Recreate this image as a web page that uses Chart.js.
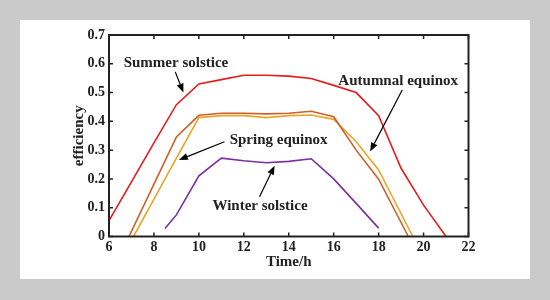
<!DOCTYPE html>
<html>
<head>
<meta charset="utf-8">
<script src="https://cdn.jsdelivr.net/npm/chart.js@4.4.1/dist/chart.umd.min.js"></script>
<style>
  html, body { margin: 0; padding: 0; background: #cacaca; }
  body { width: 550px; height: 300px; position: relative; overflow: hidden; }
  #panel { position: absolute; left: 20px; top: 20px; width: 510px; height: 259px; background: #fff; }
  canvas { display: block; }
</style>
</head>
<body>
<div id="panel"><canvas id="chart" width="510" height="259"></canvas></div>
<script>
// hours (x) and efficiency (y)
const summerHours = [6, 7, 8, 9, 10, 11, 12, 13, 14, 15, 16, 17, 18, 19, 20, 21];
const summerEff   = [0.055, 0.19, 0.325, 0.458, 0.53, 0.545, 0.56, 0.56, 0.557, 0.549, 0.525, 0.50, 0.42, 0.237, 0.109, 0];

const autumnHours = [6.89, 8, 9, 10, 11, 12, 13, 14, 15, 16, 17, 18, 19.32];
const autumnEff   = [0, 0.182, 0.346, 0.421, 0.428, 0.428, 0.426, 0.428, 0.435, 0.416, 0.30, 0.199, 0];

const springHours = [7.09, 8, 9, 10, 11, 12, 13, 14, 15, 16, 17, 18, 19.52];
const springEff   = [0, 0.13, 0.272, 0.413, 0.42, 0.42, 0.413, 0.42, 0.422, 0.407, 0.329, 0.231, 0];

const winterHours = [8.49, 9, 10, 11, 12, 13, 14, 15, 16, 17, 18];
const winterEff   = [0.028, 0.075, 0.211, 0.272, 0.263, 0.256, 0.261, 0.27, 0.2, 0.115, 0.029];

const xTicks = [6, 8, 10, 12, 14, 16, 18, 20, 22];
const yTicks = [0, 0.1, 0.2, 0.3, 0.4, 0.5, 0.6, 0.7];

// label text + arrow (tail -> head), in data units
const notes = [
  { text: "Summer solstice",  at: [8.98, 0.603], from: [8.95, 0.572], to: [9.31, 0.50] },
  { text: "Autumnal equinox", at: [18.87, 0.541], from: [19.05, 0.509], to: [17.62, 0.295] },
  { text: "Spring equinox",   at: [13.55, 0.335], from: [11.14, 0.329], to: [9.11, 0.266] },
  { text: "Winter solstice",  at: [12.72, 0.106], from: [12.70, 0.138], to: [13.37, 0.246] }
];

const pts = (xs, ys) => xs.map((x, i) => ({ x: x, y: ys[i] }));
const serif = "'Liberation Serif', 'Times New Roman', serif";
const ink = "#222";

const framePlugin = {
  id: "frame",
  afterDatasetsDraw(chart) {
    const { ctx, chartArea: a, scales: { x, y } } = chart;
    ctx.save();

    // inward ticks on all four sides
    ctx.strokeStyle = ink;
    ctx.lineWidth = 1.5;
    ctx.beginPath();
    xTicks.forEach(v => {
      const px = x.getPixelForValue(v);
      ctx.moveTo(px, a.bottom); ctx.lineTo(px, a.bottom - 4);
      ctx.moveTo(px, a.top);    ctx.lineTo(px, a.top + 4);
    });
    yTicks.forEach(v => {
      const py = y.getPixelForValue(v);
      ctx.moveTo(a.left, py);  ctx.lineTo(a.left + 4, py);
      ctx.moveTo(a.right, py); ctx.lineTo(a.right - 4, py);
    });
    ctx.stroke();

    // box
    ctx.lineWidth = 2;
    ctx.strokeRect(a.left, a.top, a.right - a.left, a.bottom - a.top);

    // annotations
    ctx.font = "bold 15px " + serif;
    ctx.fillStyle = ink;
    ctx.textAlign = "center";
    ctx.textBaseline = "middle";
    notes.forEach(n => {
      ctx.fillText(n.text, x.getPixelForValue(n.at[0]), y.getPixelForValue(n.at[1]));

      const x0 = x.getPixelForValue(n.from[0]), y0 = y.getPixelForValue(n.from[1]);
      const x1 = x.getPixelForValue(n.to[0]),   y1 = y.getPixelForValue(n.to[1]);
      const ang = Math.atan2(y1 - y0, x1 - x0);
      const len = 9, half = 3.5;
      const bx = x1 - len * Math.cos(ang), by = y1 - len * Math.sin(ang);

      ctx.strokeStyle = "#000";
      ctx.lineWidth = 1.2;
      ctx.beginPath();
      ctx.moveTo(x0, y0);
      ctx.lineTo(bx, by);
      ctx.stroke();

      ctx.fillStyle = "#000";
      ctx.beginPath();
      ctx.moveTo(x1, y1);
      ctx.lineTo(bx + half * Math.sin(ang), by - half * Math.cos(ang));
      ctx.lineTo(bx - half * Math.sin(ang), by + half * Math.cos(ang));
      ctx.closePath();
      ctx.fill();
      ctx.fillStyle = ink;
    });

    ctx.restore();
  }
};

new Chart(document.getElementById("chart"), {
  type: "line",
  data: {
    datasets: [
      { label: "Summer solstice",  data: pts(summerHours, summerEff), borderColor: "#e41d1d" },
      { label: "Autumnal equinox", data: pts(autumnHours, autumnEff), borderColor: "#cf5f26" },
      { label: "Spring equinox",   data: pts(springHours, springEff), borderColor: "#e9a62a" },
      { label: "Winter solstice",  data: pts(winterHours, winterEff), borderColor: "#7b2fa0" }
    ]
  },
  options: {
    responsive: false,
    animation: false,
    devicePixelRatio: 1,
    elements: {
      line: { borderWidth: 1.6, tension: 0, fill: false },
      point: { radius: 0 }
    },
    layout: { padding: { top: 15, right: 61.5, left: 0, bottom: 0 } },
    plugins: { legend: { display: false }, tooltip: { enabled: false } },
    scales: {
      x: {
        type: "linear",
        min: 6, max: 22,
        afterBuildTicks: s => { s.ticks = xTicks.map(v => ({ value: v })); },
        afterFit: s => { s.height = 42.5; },
        grid: { display: false, drawTicks: false },
        border: { display: false },
        ticks: { color: ink, padding: 2, font: { family: serif, size: 14, weight: "bold" } },
        title: {
          display: true, text: "Time/h", color: ink,
          font: { family: serif, size: 15, weight: "bold" },
          padding: { top: 0, bottom: 8 }
        }
      },
      y: {
        min: 0, max: 0.7,
        afterBuildTicks: s => { s.ticks = yTicks.map(v => ({ value: v })); },
        afterFit: s => { s.width = 89; },
        grid: { display: false, drawTicks: false },
        border: { display: false },
        ticks: {
          color: ink, padding: 4,
          font: { family: serif, size: 14, weight: "bold" },
          callback: v => v === 0 ? "0" : v.toFixed(1)
        },
        title: {
          display: true, text: "efficiency", color: ink,
          font: { family: serif, size: 15, weight: "bold" },
          padding: { top: 50, bottom: 0 }
        }
      }
    }
  },
  plugins: [framePlugin]
});
</script>
</body>
</html>
